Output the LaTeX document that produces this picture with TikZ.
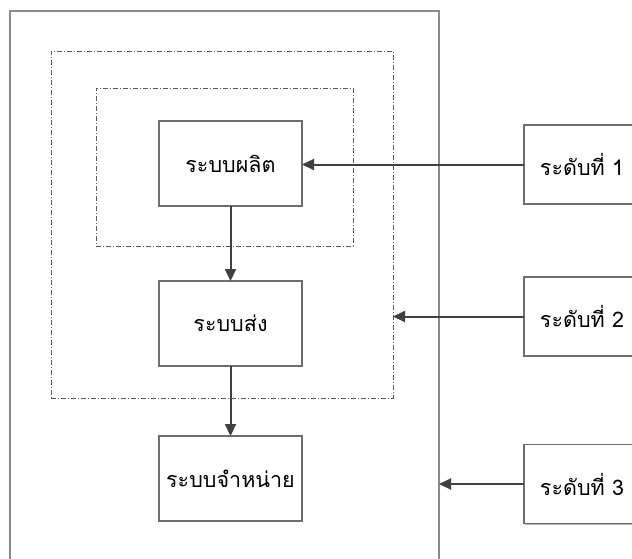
\documentclass[tikz,border=0pt]{standalone}
\usepackage{fontspec}
\newfontfamily\thaifont[Script=Thai]{Loma}
\usetikzlibrary{arrows.meta,shadows}
\definecolor{framegray}{HTML}{8C8C8C}
\definecolor{boxgray}{HTML}{6E6E6E}
\definecolor{dashgray}{HTML}{5A5A5A}
\definecolor{arrowgray}{HTML}{404040}
\begin{document}
\begin{tikzpicture}[x=1pt,y=-1pt,
  every node/.style={inner sep=0pt,outer sep=0pt},
  frame/.style={draw=framegray,line width=1.3pt,rectangle},
  dashframe/.style={draw=dashgray,line width=0.8pt,rectangle,
    dash pattern=on 5pt off 2pt on 1pt off 2pt},
  sysbox/.style={draw=boxgray,line width=1.3pt,fill=white,rectangle,
    minimum width=143pt,minimum height=85pt,font=\thaifont\fontsize{21.5}{24}\selectfont},
  levelbox/.style={draw=boxgray,line width=1.3pt,fill=white,rectangle,
    minimum width=118pt,minimum height=79pt,font=\thaifont\fontsize{21.5}{24}\selectfont,
    drop shadow={shadow xshift=1.2pt,shadow yshift=-1.2pt,fill=black!30,opacity=1}},
  arr/.style={draw=arrowgray,line width=2pt,-{Triangle[length=12pt,width=11pt]}}
]
\useasboundingbox (0,0) rectangle (632,558);
\clip (0,0) rectangle (632,558);
\fill[white] (0,0) rectangle (632,558);

% outer frame (open at the bottom of the page) and the two dash-dot zones
\node[frame,minimum width=429pt,minimum height=600pt] (frame) at (224.5,311) {};
\node[dashframe,minimum width=342pt,minimum height=347pt] (zone2) at (222,224.5) {};
\node[dashframe,minimum width=257pt,minimum height=158pt] (zone1) at (224.5,167) {};

% the three systems
\node[sysbox] (prod) at (230.5,163.5) {ระบบผลิต};
\node[sysbox] (ship) at (230.5,323.5) {ระบบส่ง};
\node[sysbox] (dist) at (230.5,478.5) {ระบบจำหน่าย};

% the three levels
\node[levelbox] (lv1) at (583,164.5) {\hspace*{-2pt}ระดับที่ 1};
\node[levelbox] (lv2) at (583,316.5) {\hspace*{-2pt}ระดับที่ 2};
\node[levelbox] (lv3) at (583,484) {\hspace*{-2pt}ระดับที่ 3};

% flow between systems
\draw[arr] (prod.south) -- (ship.north);
\draw[arr] (ship.south) -- (dist.north);

% level pointers
\draw[arr] (lv1.west) -- (lv1.west -| prod.east);
\draw[arr] (lv2.west) -- (lv2.west -| zone2.east);
\draw[arr] (lv3.west) -- (lv3.west -| frame.east);
\end{tikzpicture}
\end{document}
